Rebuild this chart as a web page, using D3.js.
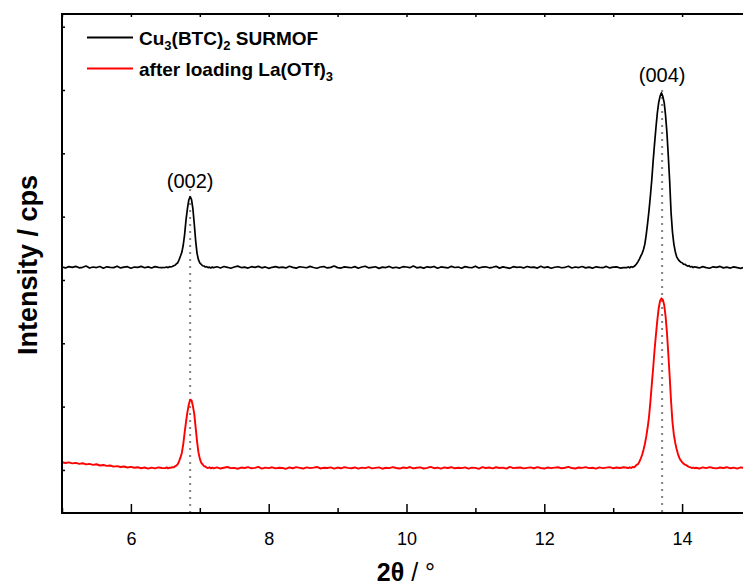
<!DOCTYPE html>
<html>
<head>
<meta charset="utf-8">
<script src="https://cdn.jsdelivr.net/npm/d3@7"></script>
<style>
	body { margin: 0; background: #fff; }
	svg { display: block; font-family: Arial, "Liberation Sans", sans-serif; }
</style>
</head>
<body>
<div id="canvas"></div>
<script>
// scan segments: start angle and step (2theta, deg)
const segStart = [5.00, 6.50, 7.20, 13.20, 14.20];
const segStep = [0.05, 0.02, 0.05, 0.02, 0.05];

// Cu3(BTC)2 SURMOF, counts per segment
const blackA = [4205, 4190, 4210, 4198, 4215, 4192, 4200, 4220, 4188, 4205, 4196, 4212, 4185, 4208, 4200,
	4195, 4218, 4190, 4202, 4210, 4186, 4204, 4198, 4215, 4193, 4207, 4189, 4210, 4200, 4196];
const blackB = [4198, 4205, 4195, 4210, 4205, 4212, 4225, 4232, 4255, 4272, 4322, 4378, 4440, 4552, 4720,
	4950, 5122, 5262, 5315, 5268, 5122, 4880, 4618, 4420, 4322, 4268, 4248, 4225, 4220, 4205,
	4210, 4195, 4202, 4190, 4205];
const blackC = [4195, 4208, 4190, 4212, 4200, 4185, 4205, 4218, 4196, 4202,
	4188, 4210, 4199, 4215, 4192, 4206, 4184, 4200, 4211, 4194,
	4203, 4190, 4216, 4198, 4187, 4209, 4201, 4193, 4214, 4197,
	4185, 4205, 4212, 4190, 4199, 4220, 4195, 4188, 4207, 4200,
	4193, 4211, 4186, 4204, 4217, 4192, 4200, 4209, 4183, 4203,
	4196, 4214, 4190, 4201, 4188, 4210, 4205, 4194, 4219, 4191,
	4202, 4187, 4208, 4198, 4213, 4185, 4206, 4199, 4190, 4215,
	4197, 4204, 4186, 4211, 4200, 4193, 4218, 4189, 4203, 4208,
	4192, 4200, 4215, 4187, 4206, 4196, 4184, 4210, 4199, 4205,
	4190, 4213, 4198, 4202, 4188, 4216, 4194, 4207, 4185, 4201,
	4209, 4193, 4200, 4217, 4189, 4205, 4196, 4212, 4191, 4203,
	4186, 4208, 4199, 4194, 4214, 4190, 4202, 4207, 4188, 4196];
const blackD = [4195, 4206, 4192, 4210, 4200, 4212, 4228, 4255, 4290, 4330,
	4375, 4420, 4480, 4570, 4720, 4900, 5100, 5330, 5580, 5880,
	6150, 6400, 6630, 6800, 6900, 6955, 6900, 6800, 6600, 6320,
	5950, 5550, 5060, 4760, 4570, 4450, 4370, 4330, 4300, 4280,
	4272, 4250, 4248, 4232, 4218, 4225, 4205, 4212, 4196, 4208];
const blackE = [4203, 4190, 4210, 4196, 4185, 4208, 4199, 4214, 4191, 4202, 4188, 4206, 4195, 4183, 4200, 4192, 4189];

// after loading La(OTf)3
const redA = [1122, 1110, 1120, 1104, 1112, 1096, 1106, 1088, 1096, 1080, 1090, 1070, 1078, 1064, 1070,
	1052, 1060, 1046, 1054, 1038, 1048, 1034, 1043, 1027, 1038, 1022, 1036, 1025, 1040, 1030];
const redB = [1028, 1040, 1025, 1036, 1032, 1045, 1040, 1058, 1068, 1092, 1140, 1198, 1272, 1408, 1590,
	1760, 1912, 2030, 2110, 2100, 2008, 1880, 1668, 1452, 1280, 1178, 1115, 1088, 1062, 1052,
	1038, 1030, 1042, 1025, 1036];
const redC = [1025, 1040, 1022, 1035, 1046, 1028, 1033, 1019, 1038, 1030,
	1044, 1026, 1032, 1048, 1021, 1037, 1029, 1042, 1024, 1035,
	1031, 1018, 1039, 1027, 1045, 1033, 1022, 1040, 1028, 1036,
	1047, 1023, 1034, 1030, 1041, 1020, 1038, 1026, 1043, 1032,
	1027, 1039, 1021, 1036, 1029, 1045, 1024, 1033, 1040, 1019,
	1035, 1028, 1044, 1031, 1022, 1038, 1030, 1046, 1025, 1034,
	1040, 1023, 1032, 1048, 1027, 1036, 1020, 1039, 1031, 1043,
	1026, 1035, 1029, 1041, 1022, 1037, 1033, 1018, 1044, 1030,
	1038, 1025, 1042, 1030, 1036, 1021, 1047, 1028, 1034, 1039,
	1024, 1033, 1040, 1027, 1045, 1031, 1022, 1038, 1029, 1036,
	1042, 1026, 1035, 1048, 1030, 1023, 1039, 1032, 1044, 1028,
	1034, 1021, 1040, 1029, 1037, 1045, 1026, 1038, 1031, 1042];
const redD = [1035, 1028, 1042, 1030, 1046, 1040, 1058, 1080, 1092, 1130,
	1180, 1240, 1320, 1410, 1530, 1670, 1840, 2080, 2350, 2610,
	2890, 3130, 3360, 3550, 3670, 3710, 3690, 3605, 3430, 3170,
	2830, 2470, 2080, 1760, 1560, 1430, 1330, 1250, 1190, 1150,
	1125, 1100, 1085, 1075, 1060, 1050, 1042, 1030, 1038, 1026];
const redE = [1035, 1022, 1040, 1028, 1045, 1031, 1024, 1038, 1030, 1043, 1026, 1036, 1021, 1039, 1032, 1044, 1029];

const xTicks = [6, 8, 10, 12, 14];
const xMinor = [5, 7, 9, 11, 13, 15];
const yTicks = [1000, 2000, 3000, 4000, 5000, 6000, 7000, 8000];
const peakLabels = ["(002)", "(004)"];
const peakPos = [6.86, 13.71];
const peakLabelY = [5450, 7120];

const series = [
	{ name: "black", color: "#000000", width: 1.7, parts: [blackA, blackB, blackC, blackD, blackE] },
	{ name: "red", color: "#ff0000", width: 1.9, parts: [redA, redB, redC, redD, redE] }
];

function toPoints(parts) {
	const pts = [];
	parts.forEach((arr, s) => {
		arr.forEach((v, i) => pts.push([+(segStart[s] + i * segStep[s]).toFixed(3), v]));
	});
	return pts;
}

const W = 743, H = 586;
const m = { left: 62, top: 14, bottom: 513, right: 751 };

const svg = d3.select("#canvas").append("svg").attr("width", W).attr("height", H);

const x = d3.scaleLinear().domain([5, 15]).range([m.left, m.right]);
const y = d3.scaleLinear().domain([320, 8200]).range([m.bottom, m.top]);

svg.append("clipPath").attr("id", "plotClip")
	.append("rect").attr("x", m.left).attr("y", m.top)
	.attr("width", m.right - m.left).attr("height", m.bottom - m.top);

// dotted guides at the reflections
const guideTop = [189, 90];
svg.append("g").selectAll("line").data(peakPos).join("line")
	.attr("x1", d => x(d)).attr("x2", d => x(d))
	.attr("y1", (d, i) => guideTop[i]).attr("y2", m.bottom)
	.attr("stroke", "#808080").attr("stroke-width", 2)
	.attr("stroke-dasharray", "2,5");

const line = d3.line().x(d => x(d[0])).y(d => y(d[1]));

svg.append("g").attr("clip-path", "url(#plotClip)")
	.selectAll("path").data(series).join("path")
	.attr("d", d => line(toPoints(d.parts)))
	.attr("fill", "none")
	.attr("stroke", d => d.color)
	.attr("stroke-width", d => d.width)
	.attr("stroke-linejoin", "round");

// axes, ticks pointing inward
const bottomAxis = svg.append("g").attr("transform", `translate(0,${m.bottom})`)
	.call(d3.axisBottom(x).tickValues(xTicks).tickFormat(d3.format("d")).tickSizeInner(-9).tickSizeOuter(0).tickPadding(19));
bottomAxis.select(".domain").remove();
bottomAxis.selectAll("text").attr("font-size", 18).attr("font-family", "Arial, 'Liberation Sans', sans-serif").attr("fill", "#000");
bottomAxis.selectAll("line").attr("stroke-width", 1.5);

const bottomMinor = svg.append("g").attr("transform", `translate(0,${m.bottom})`)
	.call(d3.axisBottom(x).tickValues(xMinor).tickFormat("").tickSizeInner(-5).tickSizeOuter(0));
bottomMinor.select(".domain").remove();
bottomMinor.selectAll("line").attr("stroke-width", 1.5);

const topAxis = svg.append("g").attr("transform", `translate(0,${m.top})`)
	.call(d3.axisTop(x).tickValues(xTicks.concat(xMinor)).tickFormat("").tickSizeInner(-3).tickSizeOuter(0));
topAxis.select(".domain").remove();
topAxis.selectAll("line").attr("stroke-width", 1.5);

const leftAxis = svg.append("g").attr("transform", `translate(${m.left},0)`)
	.call(d3.axisLeft(y).tickValues(yTicks).tickFormat("").tickSizeInner(-3).tickSizeOuter(0));
leftAxis.select(".domain").remove();
leftAxis.selectAll("line").attr("stroke-width", 1.5);

svg.append("rect")
	.attr("x", m.left).attr("y", m.top)
	.attr("width", m.right - m.left).attr("height", m.bottom - m.top)
	.attr("fill", "none").attr("stroke", "#000").attr("stroke-width", 2);

// peak labels
svg.append("g").selectAll("text").data(peakLabels).join("text")
	.attr("x", (d, i) => x(peakPos[i]))
	.attr("y", (d, i) => y(peakLabelY[i]))
	.attr("text-anchor", "middle")
	.attr("font-size", 20)
	.text(d => d);

// legend
const legend = svg.append("g").attr("font-weight", "bold").attr("font-size", 19);
const legendRows = [
	{ color: "#000000", parts: [["Cu", 0], ["3", 1], ["(BTC)", 0], ["2", 1], [" SURMOF", 0]] },
	{ color: "#ff0000", parts: [["after loading La(OTf)", 0], ["3", 1]] }
];
legendRows.forEach((r, i) => {
	const yy = 37.5 + i * 31;
	legend.append("line").attr("x1", 87).attr("x2", 133).attr("y1", yy).attr("y2", yy)
		.attr("stroke", r.color).attr("stroke-width", 2);
	const t = legend.append("text").attr("x", 139).attr("y", yy + 7.5);
	r.parts.forEach(p => {
		t.append("tspan").text(p[0])
			.attr("font-size", p[1] ? 13 : 19)
			.attr("dy", p[1] ? 5 : 0)
			.call(s => { if (!p[1] && p !== r.parts[0]) s.attr("dy", -5); });
	});
});

// axis titles
svg.append("text")
	.attr("transform", "translate(37,265) rotate(-90)")
	.attr("text-anchor", "middle")
	.attr("font-weight", "bold").attr("font-size", 27)
	.text("Intensity / cps");

const xt = svg.append("text").attr("x", 406).attr("y", 581)
	.attr("text-anchor", "middle").attr("font-size", 25);
xt.append("tspan").attr("font-weight", "bold").text("2θ");
xt.append("tspan").text(" / °");
</script>
</body>
</html>
